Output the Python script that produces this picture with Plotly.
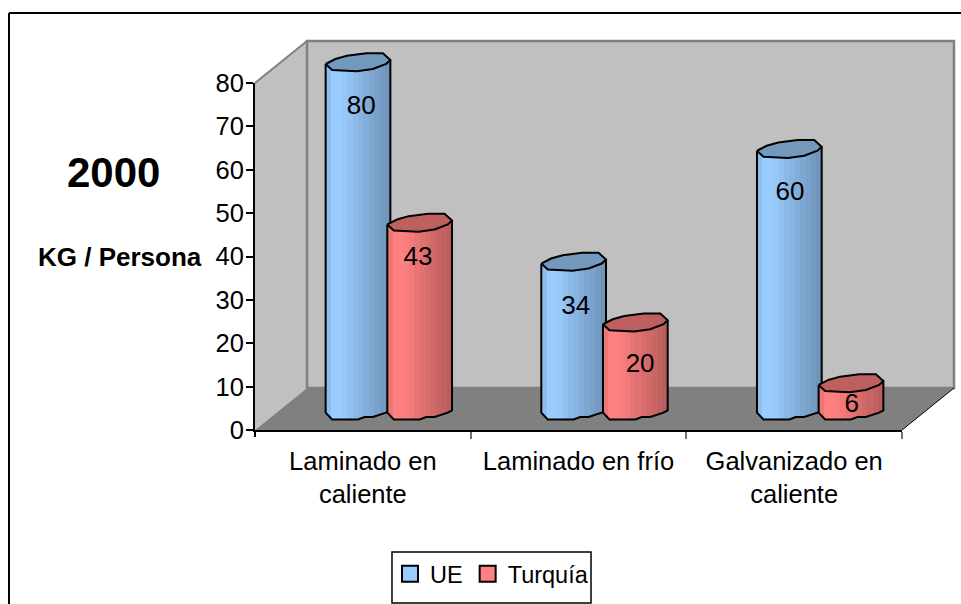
"""
Consumo de acero 2000: cilindros UE / Turquía (estilo Excel 3D)
"""
import plotly.graph_objects as go

W, H = 961, 604

categories = ["Laminado en<br>caliente", "Laminado en frío", "Galvanizado en<br>caliente"]
ue_values = [80, 34, 60]
turquia_values = [43, 20, 6]
y_ticks = [0, 10, 20, 30, 40, 50, 60, 70, 80]

# how far each value label sits under the top of its cylinder (axis units)
ue_label_drop = [10.6, 10.7, 10.4]
turquia_label_drop = [8.4, 10, 5.2]
ue_label_nudge = [0.015, 0.01, 0.003]
turquia_label_nudge = [-0.008, 0.022, 0.003]

SHADES = [0.93, 1, 1, 0.98, 0.95, 0.91, 0.88, 0.85, 0.82, 0.79, 0.76, 0.73]
BLUE = (153, 204, 255)
RED = (255, 128, 128)

# front plane of the chart, in pixels
LEFT, RIGHT, BOTTOM, TOP = 255, 902, 430, 83
DX, DY = 52, 42  # depth of the box
PX_PER_UNIT = (BOTTOM - TOP) / 80
PAD = 6  # extra axis room so caps are not clipped

BAR_W = 0.30
BAR_STEP = 0.286
N_STRIPS = 24

# blocky outline of the caps, as (position across the bar, height in axis units)
CAP_UPPER = [(-1, -0.46), (-0.7, 0.69), (-0.34, 1.46), (0, 1.69), (0.26, 2.0), (0.77, 2.0), (1, 0.46)]
CAP_LOWER = [(-1, -0.46), (-0.8, -1.84), (-0.04, -2.15), (0.46, -1.6), (0.87, -0.46), (1, 0.46)]
BASE_EDGE = [(-1, -0.85), (-0.8, -2.4), (0, -2.4), (0.2, -1.85), (0.46, -1.85), (0.87, -0.85), (1, -0.3)]


def fx(px):
    return px / W


def fy(px):
    return 1 - px / H


def shade(rgb, k):
    return "rgb(%d,%d,%d)" % tuple(round(c * k) for c in rgb)


def outline_at(profile, u):
    for (u0, h0), (u1, h1) in zip(profile, profile[1:]):
        if u <= u1:
            return h0 + (h1 - h0) * (u - u0) / (u1 - u0)
    return profile[-1][1]


def add_cylinders(fig, centers, values, rgb, xa, ya):
    for i in range(N_STRIPS):
        u0 = -1 + 2 * i / N_STRIPS
        u1 = u0 + 2 / N_STRIPS
        um = (u0 + u1) / 2
        color = shade(rgb, SHADES[i * len(SHADES) // N_STRIPS])
        low = outline_at(BASE_EDGE, um)
        top = (outline_at(CAP_UPPER, um) + outline_at(CAP_LOWER, um)) / 2
        fig.add_trace(go.Bar(
            x=centers, y=[v + top - low for v in values],
            base=[low] * len(values),
            width=BAR_W / N_STRIPS + 0.001,
            offset=[u0 * BAR_W / 2] * len(values),
            marker=dict(color=color, line=dict(width=0)),
            xaxis=xa, yaxis=ya, showlegend=False, hoverinfo="skip",
        ))
    for c, v in zip(centers, values):
        # outline: sides and bottom curve
        xs = [c - BAR_W / 2] + [c + u * BAR_W / 2 for u, _ in BASE_EDGE] + [c + BAR_W / 2]
        ys = [v + CAP_UPPER[0][1]] + [h for _, h in BASE_EDGE] + [v + CAP_UPPER[-1][1]]
        fig.add_trace(go.Scatter(
            x=xs, y=ys, mode="lines", line=dict(color="black", width=2),
            xaxis=xa, yaxis=ya, showlegend=False, hoverinfo="skip",
        ))
        # top cap
        ring = CAP_UPPER + CAP_LOWER[::-1]
        fig.add_trace(go.Scatter(
            x=[c + u * BAR_W / 2 for u, _ in ring], y=[v + h for _, h in ring],
            mode="lines", fill="toself", fillcolor=shade(rgb, 0.75),
            line=dict(color="black", width=2),
            xaxis=xa, yaxis=ya, showlegend=False, hoverinfo="skip",
        ))


fig = go.Figure()

slots = list(range(len(categories)))
mid = [s + 0.5 for s in slots]
ue_x = [m - BAR_STEP / 2 for m in mid]
tu_x = [m + BAR_STEP / 2 for m in mid]

# front axes only carry ticks and labels
fig.add_trace(go.Scatter(x=mid, y=[0] * 3, mode="markers", marker=dict(opacity=0),
                         showlegend=False, hoverinfo="skip"))

add_cylinders(fig, ue_x, ue_values, BLUE, "x2", "y2")
add_cylinders(fig, tu_x, turquia_values, RED, "x3", "y3")

fig.add_trace(go.Scatter(
    x=[x + n for x, n in zip(ue_x, ue_label_nudge)] + [x + n for x, n in zip(tu_x, turquia_label_nudge)],
    y=[v - d for v, d in zip(ue_values, ue_label_drop)] + [v - d for v, d in zip(turquia_values, turquia_label_drop)],
    text=[str(v) for v in ue_values + turquia_values],
    mode="text", textposition="middle center",
    textfont=dict(size=26, color="black"),
    xaxis="x3", yaxis="y3", showlegend=False, hoverinfo="skip",
))

# legend entries
for name, rgb in [("UE", BLUE), ("Turquía", RED)]:
    fig.add_trace(go.Scatter(
        x=[None], y=[None], mode="markers", name=name,
        marker=dict(symbol="square", size=16, color=shade(rgb, 1), line=dict(color="black", width=2)),
    ))


def poly(points, fill, line=None, width=0):
    path = "M" + " L".join("%.4f,%.4f" % (fx(x), fy(y)) for x, y in points) + " Z"
    return dict(type="path", path=path, xref="paper", yref="paper", layer="below",
                fillcolor=fill, line=dict(color=line or fill, width=width))


def seg(x0, y0, x1, y1, color="black", width=1.5):
    return dict(type="line", xref="paper", yref="paper", layer="below",
                x0=fx(x0), y0=fy(y0), x1=fx(x1), y1=fy(y1), line=dict(color=color, width=width))


BX, BY = LEFT + DX, BOTTOM - DY
BT = TOP - DY
shapes = [
    seg(9, 13, W, 13, width=2),
    seg(9, 13, 9, H, width=2),
    poly([(LEFT, TOP), (BX, BT), (BX, BY), (LEFT, BOTTOM)], "#c0c0c0"),
    poly([(BX, BT), (RIGHT + DX, BT), (RIGHT + DX, BY), (BX, BY)], "#c0c0c0", "#808080", 2.5),
    poly([(LEFT, BOTTOM), (BX, BY), (RIGHT + DX, BY), (RIGHT, BOTTOM)], "#808080"),
    seg(LEFT, TOP, BX, BT, "#808080", 2),
    seg(RIGHT, BOTTOM, RIGHT + DX, BY, "black", 1),
    seg(LEFT, BOTTOM, LEFT, BOTTOM + 7, "black", 2),
    poly([(392, 552), (591, 552), (591, 603), (392, 603)], "white", "black", 1.5),
]

bar_left = LEFT + DX / 2
bar_bottom = BOTTOM - DY / 2 + PAD * PX_PER_UNIT
bar_top = TOP - DY / 2 - PAD * PX_PER_UNIT
bar_x = dict(domain=[fx(bar_left), fx(bar_left + RIGHT - LEFT)], range=[0, 3],
             visible=False, fixedrange=True)
bar_y = dict(domain=[fy(bar_bottom), fy(bar_top)], range=[-PAD, 80 + PAD],
             visible=False, fixedrange=True)

fig.update_layout(
    width=W, height=H,
    margin=dict(l=0, r=0, t=0, b=0, autoexpand=False),
    paper_bgcolor="white", plot_bgcolor="rgba(0,0,0,0)",
    font=dict(family="Liberation Sans, Arial, sans-serif", size=25, color="black"),
    barmode="overlay", bargap=0,
    shapes=shapes,
    xaxis=dict(
        domain=[fx(LEFT), fx(RIGHT)], range=[0, 3], fixedrange=True,
        tickmode="array", tickvals=mid, ticktext=categories, ticks="",
        tickfont=dict(size=25.5), ticklabelstandoff=7, showgrid=False, zeroline=False,
        showline=True, linecolor="black", linewidth=2,
        minor=dict(tickmode="array", tickvals=[1, 2, 3], ticks="outside", ticklen=7,
                   tickcolor="#707070", tickwidth=2, showgrid=False),
    ),
    yaxis=dict(
        domain=[fy(BOTTOM), fy(TOP)], range=[0, 80], fixedrange=True,
        tickmode="array", tickvals=y_ticks, ticks="outside", ticklen=7,
        tickcolor="black", tickwidth=1.5, tickfont=dict(size=25.5),
        ticklabelstandoff=-3, showgrid=False, zeroline=False,
        showline=True, linecolor="black", linewidth=2,
    ),
    xaxis2=dict(anchor="y2", **bar_x),
    yaxis2=dict(anchor="x2", **bar_y),
    xaxis3=dict(anchor="y3", overlaying="x2", **bar_x),
    yaxis3=dict(anchor="x3", overlaying="y2", **bar_y),
    legend=dict(
        orientation="h", x=fx(390), y=fy(552), xanchor="left", yanchor="top",
        bgcolor="rgba(0,0,0,0)", borderwidth=0,
        font=dict(size=23.5),
    ),
    annotations=[
        dict(text="<b>2000</b>", x=fx(113), y=fy(172), xref="paper", yref="paper",
             showarrow=False, font=dict(size=42), xanchor="center", yanchor="middle"),
        dict(text="<b>KG / Persona</b>", x=fx(120), y=fy(257), xref="paper", yref="paper",
             showarrow=False, font=dict(size=26), xanchor="center", yanchor="middle"),
    ],
)

fig.write_html("out.html", config=dict(displayModeBar=False),
               post_script="document.body.style.margin='0';document.body.style.overflow='hidden';")
